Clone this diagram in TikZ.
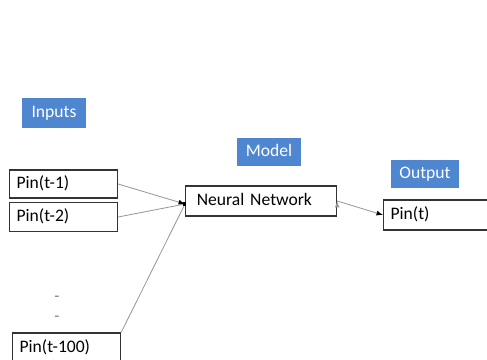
\documentclass[tikz,border=0pt]{standalone}
\usepackage{fontspec}
\setmainfont{Carlito}
\usepackage{tikz}
\usetikzlibrary{arrows}
\definecolor{tagblue}{HTML}{4F86D0}
\tikzstyle{tag}=[rectangle, fill=tagblue, text=white, inner sep=0pt, font=\fontsize{12.5}{14}\selectfont]
\tikzstyle{pinbox}=[rectangle, draw=black!80, thick, anchor=west, align=left, inner xsep=5pt, font=\fontsize{12.5}{14}\selectfont]
\tikzstyle{link}=[draw=black!40, semithick]
\tikzstyle{gap}=[text=black!50, font=\fontsize{12}{14}\selectfont]

\begin{document}
\begin{tikzpicture}[x=0.025cm,y=-0.025cm,>=latex,text height=1.5ex,text depth=0.25ex]
    \useasboundingbox (0,0) rectangle (487,360);
    % labels
    \node (inputs) [tag, minimum width=1.6cm, minimum height=0.75cm] at (54,113) {Inputs};
    \node (model) [tag, minimum width=1.6cm, minimum height=0.68cm] at (269,152) {Model};
    \node (output) [tag, minimum width=1.7cm, minimum height=0.7cm] at (425,174) {Output};
    % boxes
    \node (pin1) [pinbox, minimum height=0.7cm, text width=2.7cm-10pt] at (9,184) {Pin(t-1)};
    \node (pin2) [pinbox, minimum height=0.72cm, text width=2.7cm-10pt] at (9,217) {Pin(t-2)};
    \node (pin100) [pinbox, minimum height=0.75cm, text width=2.7cm-10pt] at (12,348) {Pin(t-100)};
    \node (nn) [pinbox, minimum height=0.75cm, inner xsep=8pt, text width=3.775cm-16pt] at (185,201) {Neural Network};
    \node (pint) [pinbox, minimum height=0.75cm, text width=2.65cm-10pt] at (383,215) {Pin(t)};
    % dots
    \node (dot1) [gap] at (57,297) {-};
    \node (dot2) [gap] at (57,317) {-};
    \coordinate (nnin) at (185,204);
    \path[link]
    (pin2.east) edge (nnin)
    (pin100.north east) edge (nnin);
    \path[link,->]
    (pin1.east) edge (nnin)
    (nn.east) edge (pint.west);
    \fill[black] (nnin) ++(-2,-2) rectangle ++(3,4);
  \end{tikzpicture}
\end{document}
